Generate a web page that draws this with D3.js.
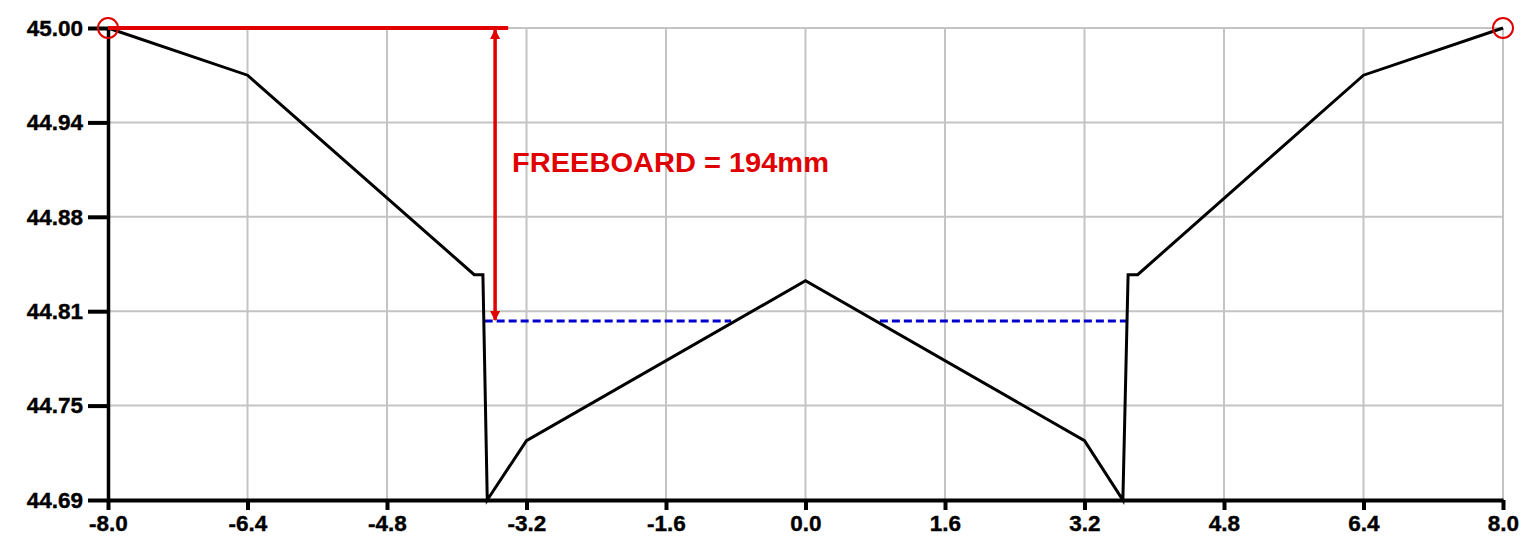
<!DOCTYPE html>
<html>
<head>
<meta charset="utf-8">
<script src="https://cdn.jsdelivr.net/npm/d3@7"></script>
<style>
  html, body { margin: 0; padding: 0; background: #fff; }
  svg { display: block; }
  text { font-family: "Liberation Sans", Arial, sans-serif; font-weight: bold; }
</style>
</head>
<body>
<svg id="chart" width="1529" height="549"></svg>
<script>
// ---- data ----
const chainage = [-8, -6.4, -3.8, -3.7, -3.65, -3.2, 0, 3.2, 3.64, 3.7, 3.81, 6.4, 8];
const level    = [45.00, 44.969, 44.838, 44.838, 44.69, 44.729, 44.834, 44.729, 44.69, 44.838, 44.838, 44.969, 45.00];

const waterLevel = 44.8075;
const waterFrom = [-3.68, 0.853];
const waterTo   = [-0.853, 3.69];

const xTicks = [-8, -6.4, -4.8, -3.2, -1.6, 0, 1.6, 3.2, 4.8, 6.4, 8];
const yTicks = [45.00, 44.938, 44.876, 44.814, 44.752, 44.69];
const yTickLabels = ["45.00", "44.94", "44.88", "44.81", "44.75", "44.69"];

const topLevel = 45.00;
const freeboardLineEnd = -3.41;
const freeboardArrowX = -3.56;
const freeboardLabel = "FREEBOARD = 194mm";
const markerPoints = [[-8, 45.00], [8, 45.00]];

// ---- layout ----
const svg = d3.select("#chart");
const mLeft = 108, mRight = 1503, mTop = 28, mBottom = 500;
const x = d3.scaleLinear().domain([-8, 8]).range([mLeft, mRight]);
const y = d3.scaleLinear().domain([44.69, 45.00]).range([mBottom, mTop]);
const red = "#e00000";

// grid
const grid = svg.append("g");
grid.append("g").selectAll("line").data(xTicks).join("line")
  .attr("x1", d => x(d)).attr("x2", d => x(d))
  .attr("y1", mTop).attr("y2", mBottom)
  .attr("stroke", "#c4c4c4").attr("stroke-width", 2);
grid.append("g").selectAll("line").data(yTicks).join("line")
  .attr("x1", mLeft).attr("x2", mRight)
  .attr("y1", d => y(d)).attr("y2", d => y(d))
  .attr("stroke", "#c4c4c4").attr("stroke-width", 2);

// axes
const xAxis = d3.axisBottom(x).tickValues(xTicks).tickFormat(d => d.toFixed(1))
  .tickSize(10).tickPadding(5).tickSizeOuter(0);
const gx = svg.append("g").attr("transform", `translate(0,${mBottom})`).call(xAxis);
gx.select(".domain").attr("stroke", "#000").attr("stroke-width", 4);
gx.selectAll(".tick line").attr("stroke", "#000").attr("stroke-width", 4);
gx.selectAll(".tick text").attr("font-size", 22.5).attr("fill", "#000")
  .attr("stroke", "#000").attr("stroke-width", 0.4)
  .attr("font-family", "'Liberation Sans', Arial, sans-serif").attr("font-weight", "bold");

const yAxis = d3.axisLeft(y).tickValues(yTicks).tickFormat((d, i) => yTickLabels[i])
  .tickSize(20).tickPadding(5).tickSizeOuter(0);
const gy = svg.append("g").attr("transform", `translate(${mLeft},0)`).call(yAxis);
gy.select(".domain").attr("stroke", "#000").attr("stroke-width", 3.5);
gy.selectAll(".tick line").attr("stroke", "#000").attr("stroke-width", 4);
gy.selectAll(".tick text").attr("font-size", 22.5).attr("fill", "#000")
  .attr("stroke", "#000").attr("stroke-width", 0.4)
  .attr("font-family", "'Liberation Sans', Arial, sans-serif").attr("font-weight", "bold");

// water level
svg.append("g").selectAll("line").data(waterFrom).join("line")
  .attr("x1", d => x(d)).attr("x2", (d, i) => x(waterTo[i]))
  .attr("y1", y(waterLevel)).attr("y2", y(waterLevel))
  .attr("stroke", "#0000cc").attr("stroke-width", 3)
  .attr("stroke-dasharray", "8,4");

// road profile
const pts = chainage.map((c, i) => [c, level[i]]);
svg.append("path").datum(pts)
  .attr("d", d3.line().x(d => x(d[0])).y(d => y(d[1])))
  .attr("fill", "none").attr("stroke", "#000").attr("stroke-width", 3)
  .attr("stroke-linejoin", "miter");

// freeboard annotation
const defs = svg.append("defs");
defs.append("marker").attr("id", "ah").attr("viewBox", "0 0 10 10")
  .attr("refX", 9).attr("refY", 5).attr("markerWidth", 3).attr("markerHeight", 3)
  .attr("orient", "auto-start-reverse").attr("markerUnits", "strokeWidth")
  .append("path").attr("d", "M0,0 L10,5 L0,10 z").attr("fill", red);

svg.append("line")
  .attr("x1", x(-8)).attr("x2", x(freeboardLineEnd))
  .attr("y1", y(topLevel)).attr("y2", y(topLevel))
  .attr("stroke", red).attr("stroke-width", 4);
svg.append("line")
  .attr("x1", x(freeboardArrowX)).attr("x2", x(freeboardArrowX))
  .attr("y1", y(topLevel) + 2).attr("y2", y(waterLevel) - 1)
  .attr("stroke", red).attr("stroke-width", 3.5)
  .attr("marker-start", "url(#ah)").attr("marker-end", "url(#ah)");
svg.append("text")
  .attr("x", 512).attr("y", 172)
  .attr("font-size", 27).attr("fill", red)
  .attr("textLength", 317).attr("lengthAdjust", "spacingAndGlyphs")
  .text(freeboardLabel);

svg.append("g").selectAll("circle").data(markerPoints).join("circle")
  .attr("cx", d => x(d[0])).attr("cy", d => y(d[1])).attr("r", 10)
  .attr("fill", "none").attr("stroke", red).attr("stroke-width", 2);
</script>
</body>
</html>
